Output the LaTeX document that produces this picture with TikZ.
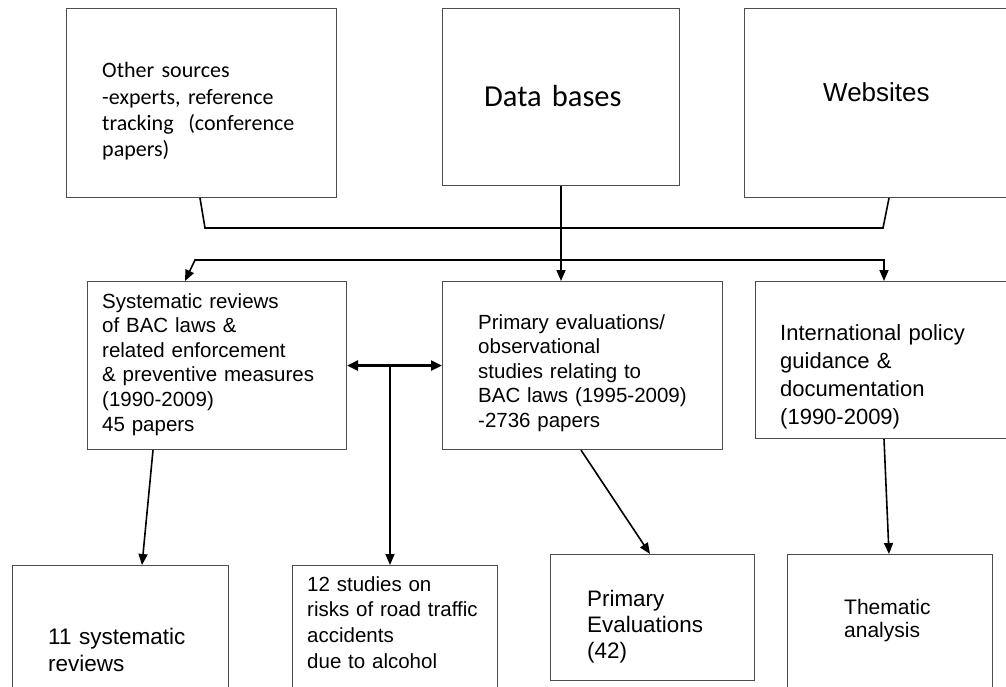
\documentclass[tikz,border=0pt]{standalone}
\usepackage{fontspec}
\setmainfont{Liberation Sans}
\newfontfamily\calibri{Carlito}
\usetikzlibrary{arrows.meta}
\begin{document}
\begin{tikzpicture}[x=1pt,y=-1pt,
  box/.style={draw=black!70, line width=1.1pt, rectangle, inner sep=0pt, anchor=north west},
  txt/.style={inner sep=0pt, anchor=base west, text width=300pt, align=left},
  conn/.style={draw=black, line width=1.6pt},
  arr/.style={conn, -{Triangle[length=11pt,width=9pt]}},
  dbl/.style={draw=black, line width=2.6pt, {Triangle[length=11pt,width=10pt]}-{Triangle[length=11pt,width=10pt]}},
]
\useasboundingbox (0,0) rectangle (1006,687);
\clip (0,0) rectangle (1006,687);
% top row
\node[box, minimum width=270, minimum height=189] (A) at (66,8) {};
\node[box, minimum width=237, minimum height=177] (B) at (442,8) {};
\node[box, minimum width=300, minimum height=189] (C) at (744,8) {};
% middle row
\node[box, minimum width=259, minimum height=168] (D) at (87,281) {};
\node[box, minimum width=280, minimum height=168] (E) at (442,281) {};
\node[box, minimum width=300, minimum height=157] (F) at (755,281) {};
% bottom row
\node[box, minimum width=216, minimum height=140] (G) at (12,565) {};
\node[box, minimum width=205, minimum height=140] (H) at (292,565) {};
\node[box, minimum width=204, minimum height=126] (I) at (550,554) {};
\node[box, minimum width=205, minimum height=140] (J) at (787,554) {};
% texts
\node[txt, font={\calibri\fontsize{22}{26.3}\selectfont}] (tA) at (102,78)
  {Other sources\\-experts, reference\\tracking\ \ (conference\\papers)};
\node[txt, font={\calibri\fontsize{30.5}{34}\selectfont}] (tB) at (484,107) {Data bases};
\node[txt, font={\fontsize{26}{30}\selectfont}] (tC) at (823,102) {Websites};
\node[txt, font={\fontsize{20.5}{24.6}\selectfont}] (tD) at (102,308)
  {Systematic reviews\\of BAC laws \&\\related enforcement\\\& preventive measures\\(1990-2009)\\45 papers};
\node[txt, font={\fontsize{20.5}{24.5}\selectfont}] (tE) at (478,329)
  {Primary evaluations/\\observational\\studies relating to\\BAC laws (1995-2009)\\-2736 papers};
\node[txt, font={\fontsize{22}{28}\selectfont}] (tF) at (780,340)
  {International policy\\guidance \&\\documentation\\(1990-2009)};
\node[txt, font={\fontsize{22.5}{27}\selectfont}] (tG) at (48,644) {11 systematic\\reviews};
\node[txt, font={\fontsize{20.5}{25.7}\selectfont}] (tH) at (307,591)
  {12 studies on\\risks of road traffic\\accidents\\due to alcohol};
\node[txt, font={\fontsize{22.4}{26}\selectfont}] (tI) at (587,606) {Primary\\Evaluations\\(42)};
\node[txt, font={\fontsize{21}{23.5}\selectfont}] (tJ) at (844,614) {Thematic\\analysis};
% junction coordinates
\coordinate (m1) at (205,228);
\coordinate (m2) at (883,228);
\coordinate (dl) at (195,260);
\coordinate (dr) at (884,260);
\coordinate (vj) at (390,365);
% connectors
\draw[conn] ([xshift=134pt]A.south west) -- (m1) -- (m2) -- ([xshift=145pt]C.south west);
\draw[arr] ([xshift=119pt]B.south west) -- ([xshift=119pt]E.north west);
\draw[conn, {Triangle[length=11pt,width=9pt]}-{Triangle[length=11pt,width=9pt]}]
  ([xshift=98pt]D.north west) -- (dl) -- (dr) -- ([xshift=129pt]F.north west);
\draw[dbl] (D.east) -- (E.west);
\draw[arr] (vj) -- (vj |- H.north);
\draw[arr] ([xshift=66pt]D.south west) -- ([xshift=130pt]G.north west);
\draw[arr] ([xshift=139pt]E.south west) -- ([xshift=100pt]I.north west);
\draw[arr] ([xshift=129pt]F.south west) -- ([xshift=102pt]J.north west);
\end{tikzpicture}
\end{document}
